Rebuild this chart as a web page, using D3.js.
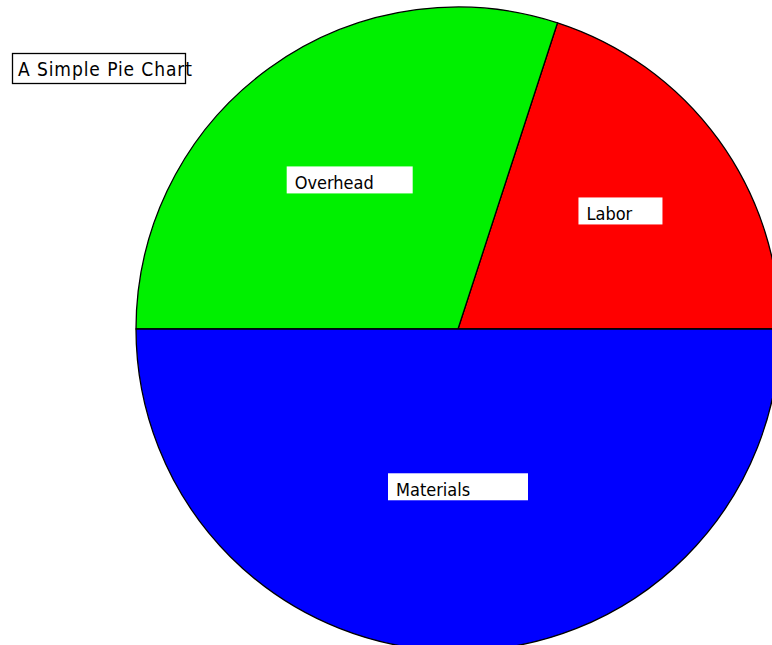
<!DOCTYPE html>
<html>
<head>
<meta charset="utf-8">
<script src="https://cdn.jsdelivr.net/npm/d3@7"></script>
<style>
  html, body { margin: 0; padding: 0; background: #fff; overflow: hidden; }
  svg { display: block; }
</style>
</head>
<body>
<svg id="chart" width="772" height="645"></svg>
<script>
// ---- data ----
const categories = ["Labor", "Overhead", "Materials"];
const values = [20, 30, 50];
const colors = ["#ff0000", "#00f000", "#0000ff"];
const title = "A Simple Pie Chart";

// ---- layout ----
const cx = 458, cy = 329, R = 322;
const svg = d3.select("#chart");

const pie = d3.pie()
  .sort(null)
  .value(d => d.value)
  .startAngle(Math.PI / 2)
  .endAngle(Math.PI / 2 - 2 * Math.PI);

const data = categories.map((c, i) => ({ name: c, value: values[i], color: colors[i] }));
const arcs = pie(data);
const arc = d3.arc().innerRadius(0).outerRadius(R);

const g = svg.append("g").attr("transform", `translate(${cx},${cy})`);

g.selectAll("path.slice")
  .data(arcs)
  .join("path")
  .attr("class", "slice")
  .attr("d", arc)
  .attr("fill", d => d.data.color)
  .attr("stroke", "#000")
  .attr("stroke-width", 1.3)
  .attr("stroke-linejoin", "round");

// labels at the geometric centroid of each sector
const labelFont = "'DejaVu Sans Condensed', 'DejaVu Sans', sans-serif";
const lab = g.selectAll("g.lab")
  .data(arcs)
  .join("g")
  .attr("class", "lab")
  .attr("transform", d => {
    const a = (d.startAngle + d.endAngle) / 2;
    const half = Math.abs(d.endAngle - d.startAngle) / 2;
    const dist = Math.max(2 * R * Math.sin(half) / (3 * half), 0.49 * R);
    return `translate(${dist * Math.sin(a)},${-dist * Math.cos(a)})`;
  });

lab.each(function(d) {
  const sel = d3.select(this);
  const n = d.data.name.length;
  const bw = 14 * (n + 1), bh = 27;
  sel.append("rect")
    .attr("x", -bw / 2).attr("y", -bh / 2)
    .attr("width", bw).attr("height", bh)
    .attr("fill", "#fff");
  sel.append("text")
    .attr("x", -bw / 2 + 8)
    .attr("y", 9)
    .attr("font-family", labelFont)
    .attr("font-size", 18)
    .attr("fill", "#000")
    .text(d.data.name);
});

// title box
const tg = svg.append("g");
tg.append("rect")
  .attr("x", 12.5).attr("y", 53.5)
  .attr("width", 173).attr("height", 30)
  .attr("fill", "#fff")
  .attr("stroke", "#000")
  .attr("stroke-width", 1.3);
tg.append("text")
  .attr("x", 18).attr("y", 76)
  .attr("font-family", labelFont)
  .attr("font-size", 19)
  .attr("textLength", 174)
  .attr("lengthAdjust", "spacing")
  .attr("fill", "#000")
  .text(title);
</script>
</body>
</html>
